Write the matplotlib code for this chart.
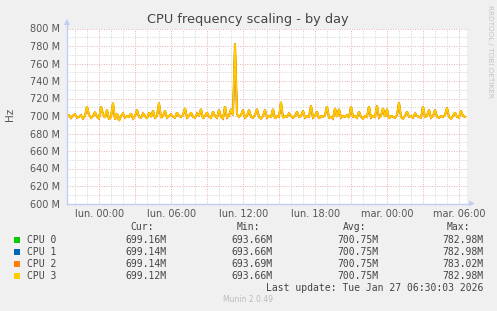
import matplotlib
matplotlib.use("Agg")
import matplotlib.pyplot as plt
import numpy as np
from matplotlib.patches import Polygon, Rectangle
from matplotlib.lines import Line2D

# ---------------- data ----------------
series_names = ["CPU 0", "CPU 1", "CPU 2", "CPU 3"]
series_colors = ["#00CC00", "#0066B3", "#FF8000", "#FFCC00"]

# frequency in MHz, one sample every 10 minutes, starting 2.69 h before "lun. 00:00"
cpu_mhz = [
    699.5, 701, 697.5, 700.5, 702, 698, 699, 701, 697, 700,
    711, 701, 698, 700, 704.5, 699, 697, 711, 702, 698,
    707, 696, 699, 715, 696, 703, 694.5, 700, 703, 698,
    700, 699, 703, 697, 700, 707, 699, 698, 703, 700,
    697, 704, 699, 706, 698, 700, 715, 698, 700, 706,
    698, 700, 702, 699, 698, 704, 700, 699, 701, 709,
    698, 700, 704, 699, 698, 703, 700, 708, 697, 700,
    704, 699, 698, 705, 700, 698, 707, 699, 697, 711,
    698, 700, 708, 701, 783, 702, 699, 701, 707, 698,
    700, 707, 699, 698, 701, 708, 699, 697, 700, 707,
    698, 700, 699, 708, 697, 700, 699, 716, 698, 700,
    699, 703, 700, 698, 700, 705, 699, 700, 706, 698,
    700, 699, 712, 698, 700, 705, 697, 700, 699, 701,
    711, 698, 699, 697, 709, 699, 708, 698, 700, 699,
    701, 698, 711, 699, 700, 698, 705, 699, 697, 700,
    699, 711, 698, 700, 699, 712, 698, 700, 709, 699,
    708, 697, 700, 699, 698, 701, 715.5, 699, 697, 700,
    705, 699, 700, 698, 703, 700, 699, 698, 711, 699,
    700, 707, 698, 700, 707, 699, 698, 700, 699, 701,
    709.5, 699, 697, 700, 704, 699, 698, 706, 700, 699.1,
]
cpu0 = list(cpu_mhz)
cpu1 = list(cpu_mhz)
cpu2 = list(cpu_mhz)
cpu3 = list(cpu_mhz)
series_values = [cpu0, cpu1, cpu2, cpu3]

start_hour = -2.69
sample_step_h = 1 / 6

x_tick_hours = [0, 6, 12, 18, 24, 30]
x_tick_labels = ["lun. 00:00", "lun. 06:00", "lun. 12:00", "lun. 18:00",
                 "mar. 00:00", "mar. 06:00"]
y_ticks = [600, 620, 640, 660, 680, 700, 720, 740, 760, 780, 800]

leg_cur = ["699.16M", "699.14M", "699.14M", "699.12M"]
leg_min = ["693.66M", "693.66M", "693.69M", "693.66M"]
leg_avg = ["700.75M", "700.75M", "700.75M", "700.75M"]
leg_max = ["782.98M", "782.98M", "783.02M", "782.98M"]

# ---------------- figure ----------------
W, H = 497, 311
fig = plt.figure(figsize=(W / 100, H / 100), dpi=100, facecolor="#F0F0F0")

L, R, T, B = 67, 467, 28.5, 203.5
ax = fig.add_axes([L / W, 1 - B / H, (R - L) / W, (B - T) / H])
ax.set_facecolor("white")
x0 = start_hour
ax.set_xlim(x0, x0 + 400 / 12)
ax.set_ylim(600, 800)
for s in ax.spines.values():
    s.set_visible(False)

gray = "#D4D4D4"
red = "#E6B0B0"
dots = (0, (1.0, 1.5))
for v in range(600, 801, 10):
    ax.axhline(v, color=red if v % 20 == 0 else gray, lw=0.7,
               linestyle=dots, zorder=1)
for h in range(-2, 31):
    ax.axvline(h, color=red if h % 3 == 0 else gray, lw=0.7,
               linestyle=dots, zorder=1)

t = x0 + np.arange(len(cpu_mhz)) * sample_step_h
widths = [1.0, 1.0, 1.5, 1.2]
for vals, col, lw in zip(series_values, series_colors, widths):
    ax.plot(t, vals, color=col, lw=lw, zorder=3, solid_joinstyle="miter")

ax.set_xticks(x_tick_hours)
ax.set_xticklabels(x_tick_labels)
ax.set_yticks(y_ticks)
ax.set_yticklabels([f"{v} M" for v in y_ticks])
ax.tick_params(axis="both", length=0, labelsize=7, colors="#555555")
ax.tick_params(axis="x", pad=4)
ax.tick_params(axis="y", pad=5)

# axis lines with arrows (figure pixel coordinates)
axis_col = "#C4CCF4"
def fx(x):
    return x / W
def fy(y):
    return 1 - y / H
fig.add_artist(Line2D([fx(L), fx(L)], [fy(B), fy(24)], color=axis_col, lw=1.0))
fig.add_artist(Line2D([fx(L), fx(470)], [fy(B), fy(B)], color=axis_col, lw=1.0))
fig.add_artist(Polygon([[fx(L - 3), fy(25)], [fx(L + 3), fy(25)], [fx(L), fy(19)]],
                       closed=True, color=axis_col, lw=0))
fig.add_artist(Polygon([[fx(469), fy(B - 3)], [fx(469), fy(B + 3)], [fx(475), fy(B)]],
                       closed=True, color=axis_col, lw=0))

# titles
fig.text(fx(248), fy(19.5), "CPU frequency scaling - by day", ha="center",
         va="center", fontsize=9.3, color="#444444")
fig.text(fx(10), fy(114), "Hz", rotation=90, ha="center", va="center",
         fontsize=7.5, color="#555555")
fig.text(fx(490), fy(5), "RRDTOOL / TOBI OETIKER", rotation=270, ha="center",
         va="top", fontsize=5.2, color="#C4C4C4")

# legend
mono = "DejaVu Sans Mono"
txt_col = "#444444"
hdr_x = [154, 260, 366, 470]
val_x = [167, 273, 378, 483]
for hx, hname in zip(hdr_x, ["Cur:", "Min:", "Avg:", "Max:"]):
    fig.text(fx(hx), fy(227), hname, ha="right", va="center", fontsize=7,
             family=mono, color=txt_col)
row_y = [240, 252, 264, 276]
for i, (name, col) in enumerate(zip(series_names, series_colors)):
    y = row_y[i]
    fig.add_artist(Rectangle((fx(14), fy(y + 3)), 6 / W, 6 / H, color=col, lw=0))
    fig.text(fx(27), fy(y), name, ha="left", va="center", fontsize=7,
             family=mono, color=txt_col)
    for vx, col_vals in zip(val_x, [leg_cur, leg_min, leg_avg, leg_max]):
        fig.text(fx(vx), fy(y), col_vals[i], ha="right", va="center",
                 fontsize=7, family=mono, color=txt_col)
fig.text(fx(483), fy(288), "Last update: Tue Jan 27 06:30:03 2026", ha="right",
         va="center", fontsize=7, family=mono, color=txt_col)
fig.text(fx(248), fy(300), "Munin 2.0.49", ha="center", va="center",
         fontsize=5.5, color="#BBBBBB")

fig.savefig("out.png", dpi=100, facecolor=fig.get_facecolor())
